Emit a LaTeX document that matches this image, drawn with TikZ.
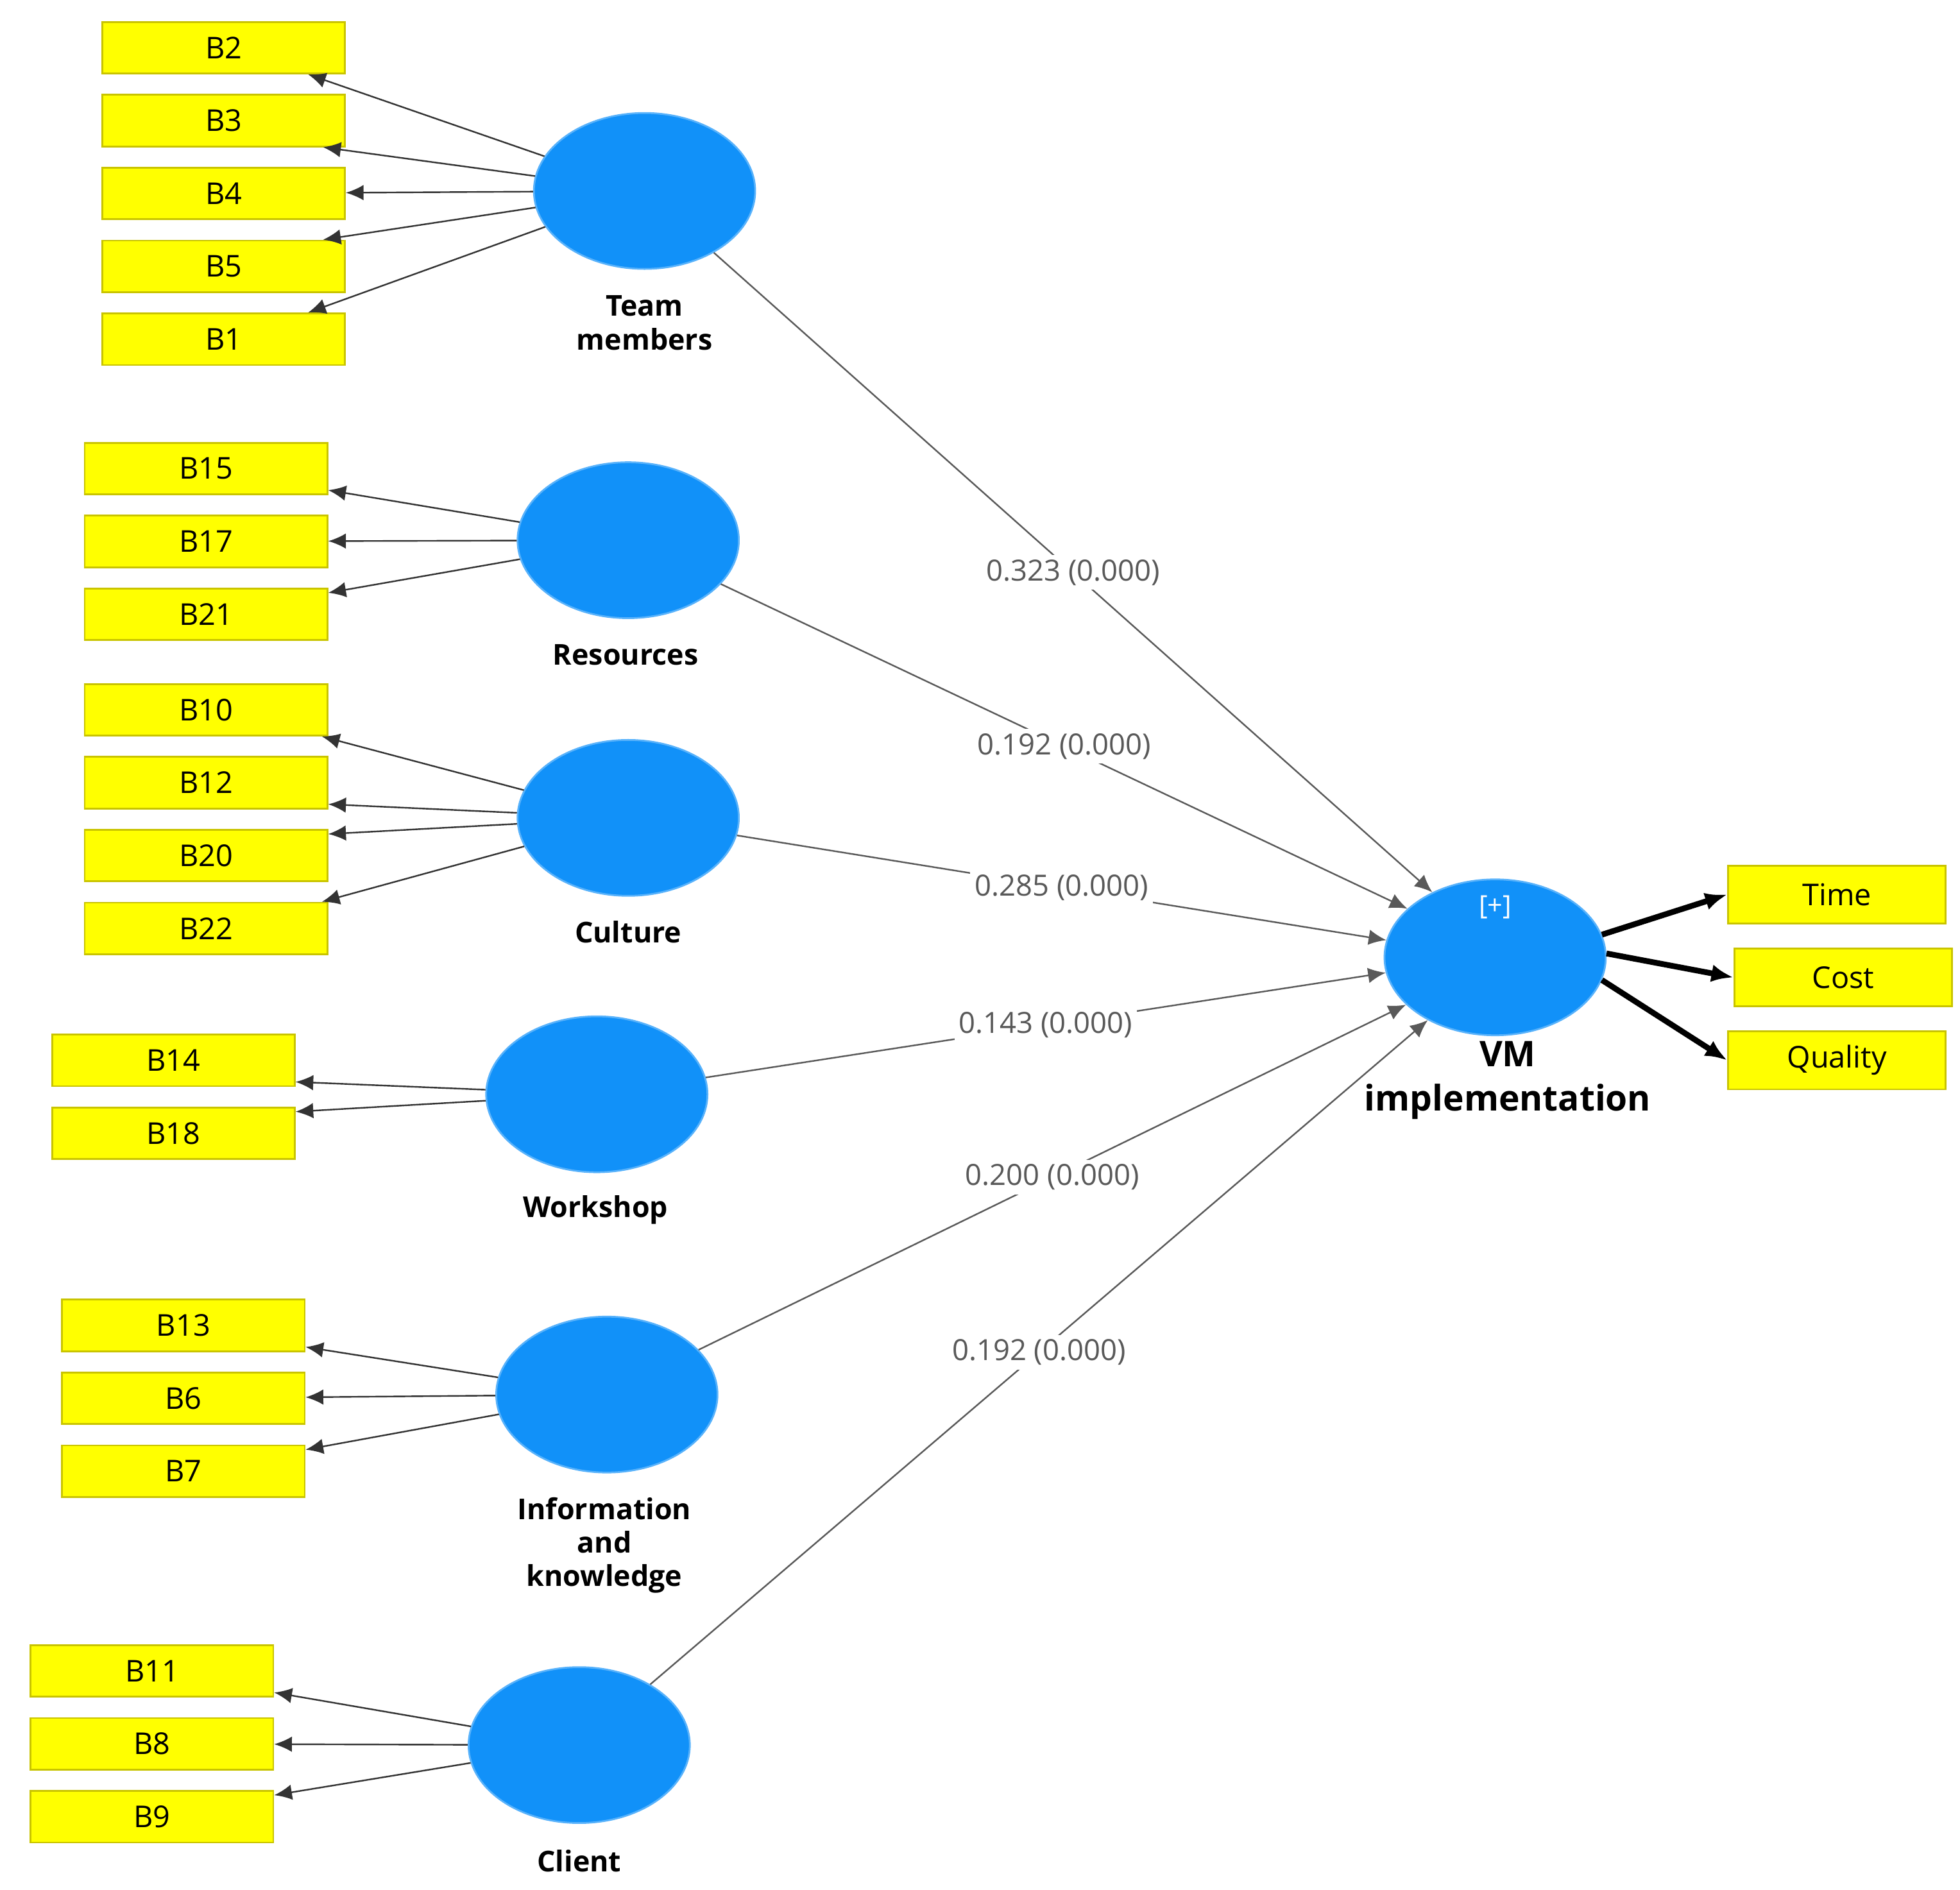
\documentclass[tikz,border=0pt]{standalone}
\usepackage{fontspec}
\setmainfont{Open Sans}
\usetikzlibrary{shapes.geometric,arrows.meta}
\definecolor{lv}{HTML}{1191F9}
\definecolor{yb}{HTML}{FFFF00}
\definecolor{yd}{HTML}{C9C400}
\begin{document}
\begin{tikzpicture}[x=0.01cm,y=-0.01cm,
 box/.style={draw=yd,fill=yb,line width=0.4pt,minimum width=1.93cm,minimum height=0.41cm,inner sep=0pt,font=\fontsize{6.8}{8}\selectfont},
 obox/.style={box,minimum width=1.73cm,minimum height=0.46cm},
 lv/.style={ellipse,fill=lv,draw=lv!70!white,minimum width=1.76cm,minimum height=1.24cm,inner sep=0pt},
 lab/.style={font=\bfseries\fontsize{6.5}{7.6}\selectfont,align=center},
 pl/.style={fill=white,inner sep=1pt,font=\fontsize{6.6}{8}\selectfont},
 ld/.style={-{Latex[length=4pt,width=3.5pt]},line width=0.35pt,black!80},
 pth/.style={-{Latex[length=4pt,width=3.5pt]},line width=0.35pt,black!65},
 outarr/.style={-{Latex[length=5pt,width=4pt]},line width=1.3pt}]
\useasboundingbox (0,0) rectangle (1560,1504);
% latent variables
\node[lv] (tm) at (513,152) {};
\node[lv] (rs) at (500,430) {};
\node[lv] (cu) at (500,651) {};
\node[lv] (ws) at (475,871) {};
\node[lv] (ik) at (483,1110) {};
\node[lv] (cl) at (461,1389) {};
\node[lv] (vm) at (1190,762) {};
\node[text=white,font=\fontsize{6}{7}\selectfont] (plus) at (1190,722) {[+]};
% labels
\node[lab] (ltm) at (513,257) {Team\\members};
\node[lab] (lrs) at (498,521) {Resources};
\node[lab] (lcu) at (500,742) {Culture};
\node[lab] (lws) at (474,963) {Workshop};
\node[lab] (lik) at (481,1230) {Information\\and\\knowledge};
\node[lab] (lcl) at (461,1481) {Client};
\node[lab,font=\bfseries\fontsize{8}{10}\selectfont] (lvm) at (1200,860) {VM\\implementation};
% boxes
\node[box] (b2) at (178,38) {B2};
\node[box] (b3) at (178,96) {B3};
\node[box] (b4) at (178,154) {B4};
\node[box] (b5) at (178,212) {B5};
\node[box] (b1) at (178,270) {B1};
\node[box] (b15) at (164,373) {B15};
\node[box] (b17) at (164,431) {B17};
\node[box] (b21) at (164,489) {B21};
\node[box] (b10) at (164,565) {B10};
\node[box] (b12) at (164,623) {B12};
\node[box] (b20) at (164,681) {B20};
\node[box] (b22) at (164,739) {B22};
\node[box] (b14) at (138,844) {B14};
\node[box] (b18) at (138,902) {B18};
\node[box] (b13) at (146,1055) {B13};
\node[box] (b6) at (146,1113) {B6};
\node[box] (b7) at (146,1171) {B7};
\node[box] (b11) at (121,1330) {B11};
\node[box] (b8) at (121,1388) {B8};
\node[box] (b9) at (121,1446) {B9};
\node[obox] (ti) at (1462,712) {Time};
\node[obox] (co) at (1467,778) {Cost};
\node[obox] (qu) at (1462,844) {Quality};
% loadings
\draw[ld] (tm) -- ([xshift=-0.3cm]b2.south east);
\draw[ld] (tm) -- (b3.-15);
\draw[ld] (tm) -- (b4);
\draw[ld] (tm) -- (b5.15);
\draw[ld] (tm) -- ([xshift=-0.3cm]b1.north east);
\draw[ld] (rs) -- (b15.-10);
\draw[ld] (rs) -- (b17);
\draw[ld] (rs) -- (b21.10);
\draw[ld] (cu) -- ([xshift=-0.05cm]b10.south east);
\draw[ld] (cu) -- (b12.-10);
\draw[ld] (cu) -- (b20.10);
\draw[ld] (cu) -- ([xshift=-0.05cm]b22.north east);
\draw[ld] (ws) -- (b14.-10);
\draw[ld] (ws) -- (b18.10);
\draw[ld] (ik) -- (b13.-10);
\draw[ld] (ik) -- (b6);
\draw[ld] (ik) -- (b7.10);
\draw[ld] (cl) -- (b11.-10);
\draw[ld] (cl) -- (b8);
\draw[ld] (cl) -- (b9.10);
% paths
\draw[pth] (tm) -- (vm.134) node[pl,pos=0.5] {0.323 (0.000)};
\draw[pth] (rs) -- (vm.151) node[pl,pos=0.5] {0.192 (0.000)};
\draw[pth] (cu) -- (vm.171) node[pl,pos=0.5] {0.285 (0.000)};
\draw[pth] (ws) -- (vm.188) node[pl,pos=0.5] {0.143 (0.000)};
\draw[pth] (ik) -- (vm.208) node[pl,pos=0.5] {0.200 (0.000)};
\draw[pth] (cl) -- (vm.223) node[pl,pos=0.5] {0.192 (0.000)};
% outer
\draw[outarr] (vm.12) -- (ti.west);
\draw[outarr] (vm.2) -- (co.west);
\draw[outarr] (vm.-12) -- (qu.west);
\end{tikzpicture}
\end{document}
